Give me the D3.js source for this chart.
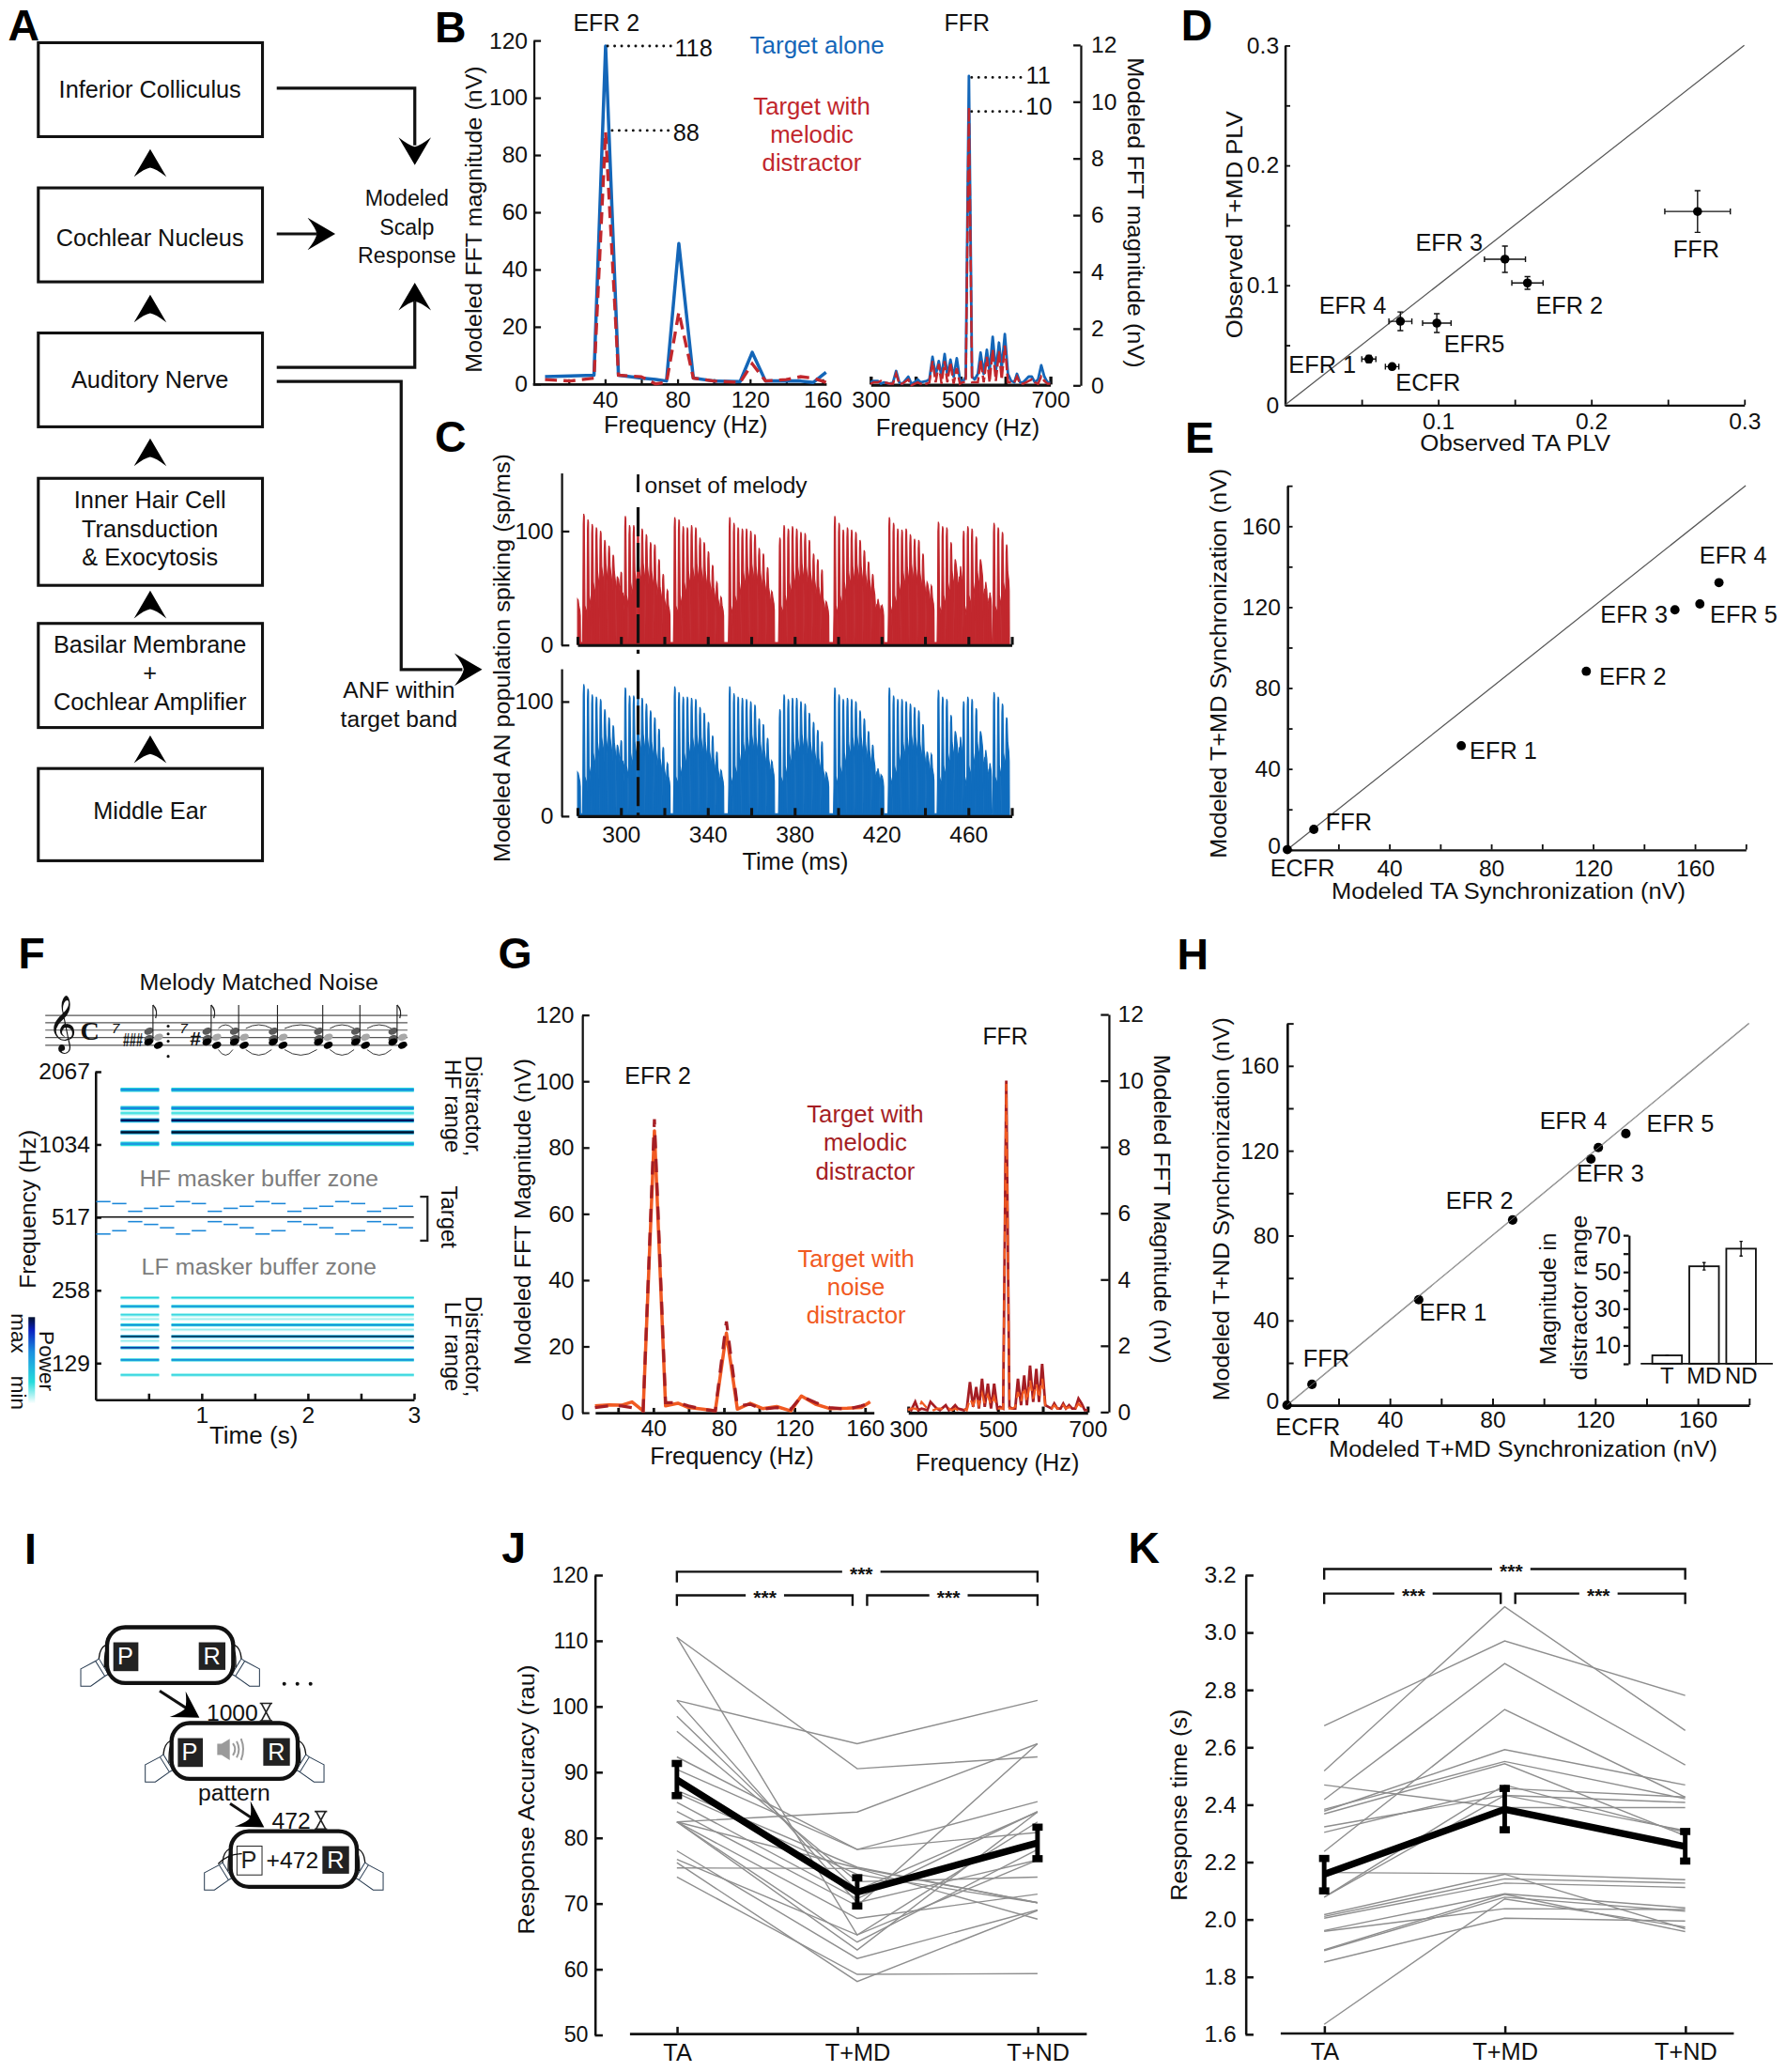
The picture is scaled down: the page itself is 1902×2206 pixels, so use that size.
<!DOCTYPE html>
<html><head><meta charset="utf-8">
<script src="https://cdn.jsdelivr.net/npm/d3@7/dist/d3.min.js"></script>
<style>html,body{margin:0;padding:0;background:#fff}svg{display:block}
text{font-family:"Liberation Sans",Arial,sans-serif;fill:#111}</style></head><body>
<script>
// ---------- DATA ----------
const pathwayStages = [["Inferior Colliculus"],["Cochlear Nucleus"],["Auditory Nerve"],["Inner Hair Cell","Transduction","& Exocytosis"],["Basilar Membrane","+","Cochlear Amplifier"],["Middle Ear"]];
const efrFreqB = [7,21,34,40.4,47.5,60,68,74,80.8,88.8,100,114.6,121.3,128.6,140,148,155,162];
const efrTA_B  = [2.5,2.8,3,118,3,2,1.5,1,49,2,1,0.8,11,1,1,1,0.5,4];
const efrMD_B  = [1.5,1,2,88,3,2.5,0,0.5,25,2,1,0.5,7,1,1.5,2.5,2,0.5];
const ffrFreq = [300,307,316,323,330,343,350,357,364,371,384,391,398,405,411,425,431,438,445,452,458,465,471,478,485,492,499,505,512,519,526,532,539,545,552,559,565,572,579,586,592,599,606,613,620,626,633,640,646,652,659,666,673,680,687,694,700];
const ffrTA_B = [.1,.15,.15,.05,.1,.05,.1,.5,.1,.05,.3,.05,.1,.2,.1,.15,.2,1,.35,.85,.3,1.1,.35,.9,.3,.95,.2,.1,.3,10.9,.3,.2,.4,1.15,.4,1.25,.5,1.7,.5,1.5,.6,1.8,.4,.15,.1,.4,.1,.1,.2,.3,.3,.1,.2,.7,.3,.1,.1];
const ffrMD_B = [.05,.1,.1,.15,.1,.05,.05,.4,.05,.05,.2,0,.05,.1,.05,.05,.1,.85,.1,.75,.05,.85,.1,.8,.05,.6,.05,.1,.1,9.8,.1,.1,.1,.9,.1,1,.1,1.25,.15,1.2,.2,1.4,.1,.1,.1,.3,.05,.05,.1,.15,.2,.1,.05,.3,.15,.05,.05];
const spikeBurstStart = [280.2,283,300.2,324.9,350.2,373.3,398.6,423.7,446.3,457.9,471.9];
const redPeaks = [[40],[115,110,106,103,100,92,87,79,60,40],[64,113,105,105,106,102,97,90,88,75,62,48],[112,110,104,103,105,103,94,90,82,70,55,42],[112,107,103,102,102,100,97,85,80,68,47],[94,105,102,104,102,99,98,92,80,75,66,38],[113,107,101,103,101,99,92,83,73,62,35,34],[112,107,102,101,102,97,93,92,80,55,52],[108,104,103,90,75,60],[100,104,102,95,75,48,40],[107,103,99,88]];
const bluePeaks = [[38],[115,111,106,104,102,93,86,79,62,42],[66,112,105,105,106,103,98,92,86,76,60,46],[113,108,104,104,103,102,95,90,82,70,56,40],[113,107,104,103,102,100,97,85,80,68,48],[93,106,102,103,103,100,98,90,82,75,65,38],[112,106,102,103,102,100,92,85,74,62,38,36],[112,105,102,102,100,98,95,92,80,56,54],[110,104,102,88,74,60],[100,104,102,94,74,50,40],[108,104,98,86]];
const shoulderByOrder = [30,38,48,56,60,62,60,56,50,44,36,30,26];
const onsetTime = 308;
const plvLabels = ["FFR","EFR 3","EFR 2","EFR5","EFR 4","EFR 1","ECFR"];
const plvTA = [.2695,.1437,.1584,.0992,.0754,.0548,.07];
const plvMD = [.1614,.1216,.1018,.0683,.0698,.0383,.032];
const plvTAerr = [.0214,.0134,.0102,.0093,.0075,.0046,.0044];
const plvMDerr = [.0174,.011,.0053,.0078,.0078,.003,.0015];
const synLabels = ["ECFR","FFR","EFR 1","EFR 2","EFR 3","EFR 5","EFR 4"];
const synTA = [0,10.4,68.3,117.4,152.2,162,169.5];
const synMD_E = [0,10,51.4,88.2,118.6,121.5,132];
const synLabelsH = ["ECFR","FFR","EFR 1","EFR 2","EFR 3","EFR 4","EFR 5"];
const synMD_H = [0,9.7,51.3,87.9,118.4,121.3,132];
const synND_H = [0,9.8,49.7,87.3,116,121.4,128];
const hfLineFreq = [1737,1459,1391,1298,1159,1038];
const hfLinePower = [.6,.62,.2,.95,1,.55];
const lfLineFreq = [240,221,204,196,185,177,166,159,149,132.8,115];
const lfLinePower = [.3,.62,.3,.12,.66,.12,1,.12,.9,.65,.3];
const maskerGaps = [[.238,.6],[.716,3]];
const targetUpper = [599,588,546,562,573];
const targetLower = [440,454,495,482,467];
const targetFundamental = 517;
const efrFreqG = [7,15,22,28,34.3,40.7,47,54,60,68,75.2,81.5,87.7,95,102,110,118,124,132,140,150,158,163];
const efrMD_G = [1.5,2,2,1.5,.5,88.5,3,3,2,1,.5,27.5,2,2.5,1,1.5,1,4.9,3,1.5,1,2,3];
const efrND_G = [2,2.3,2.2,3.2,.5,85,2,2.8,1.5,1,.5,24,1,2.8,1.2,1.8,.5,5,2.5,1.2,1.3,1.5,3.2];
const ffrMD_G = [.1,.05,.3,.05,.1,.05,.3,.2,.1,.05,.2,.05,.1,.2,.1,.05,.1,.9,.15,.75,.1,1,.15,.85,.1,.85,.1,.15,.1,10,.15,.1,.1,1,.2,1.1,.2,1.4,.3,1.3,.3,1.45,.2,.15,.1,.25,.1,.1,.25,.1,.2,.1,.1,.4,.25,.05,.05];
const ffrND_G = [.05,.1,.1,.05,.3,.1,.1,.05,.1,.1,.05,.1,.05,.1,.05,.1,.05,.4,.2,.45,.2,.55,.25,.5,.2,.45,.1,.1,.1,9.9,.1,.1,.15,.6,.3,.75,.3,.95,.4,.85,.4,1,.2,.1,.1,.2,.1,.05,.2,.1,.15,.05,.1,.25,.15,.05,.05];
const insetCats = ["T","MD","ND"];
const insetVals = [4.5,53,62.6];
const insetErr = [.2,2,4];
const conditions = ["TA","T+MD","T+ND"];
const accuracyTA = [100.9,110.5,110.5,82.4,100.9,98.5,96.2,92.3,90.4,87.2,86.8,85.4,84,82.4,82.4,82.4,82.4,78,76.7,75.4,74,76.2];
const accuracyMD = [94.3,90.5,65.2,83.9,70.1,72,73.3,78.2,78.2,75.5,74.4,70.7,69.6,75.4,67.7,64.1,62.9,61.6,65.2,75.3,59.2,58.1];
const accuracyND = [100.9,92.3,82.4,94.3,76.6,83.9,74,85.5,80.8,70.1,70.1,84,94.3,70.1,71.4,78.2,83.9,69,76.6,67.6,59.3,68.9];
const accuracyMean = [88.8,71.7,79.2];
const accuracyLo = [86.4,69.6,76.8];
const accuracyHi = [91.3,73.9,81.6];
const timeTA = [2.674,2.517,2.417,2.236,2.077,2.077,2.468,2.377,2.383,2.367,2.322,2.303,2.163,2.016,2.01,2.004,1.961,1.958,1.894,1.891,1.851,1.634];
const timeMD = [2.97,3.089,2.891,2.731,2.468,2.432,2.389,2.591,2.55,2.542,2.432,2.456,2.159,2.157,2.141,2.126,2.089,2.037,2.087,2.077,2.004,2.071];
const timeND = [2.78,2.658,2.538,2.426,2.303,2.309,2.389,2.468,2.42,2.291,2.407,2.426,2.138,1.967,2.126,2.111,2.04,2.034,1.957,2.028,1.994,1.973];
const timeMean = [2.157,2.383,2.254];
const timeLo = [2.099,2.312,2.203];
const timeHi = [2.212,2.456,2.306];

// ---------- SETUP ----------
const W=1352, H=2206/(1902/1352);
const svg=d3.select("body").append("svg").attr("width",1902).attr("height",2206).attr("viewBox",`0 0 ${W} ${H}`);
const RED="#c1272d",BLUE="#1466b8",DKRED="#a51e24",ORANGE="#f15a22",GRAY="#8e8e8e";
function txt(p,x,y,s,o={}){
  const t=p.append("text").attr("transform",`translate(${x},${y})`+(o.rot?` rotate(${o.rot})`:""))
    .attr("text-anchor",o.anchor||"middle").attr("dy",".36em").attr("font-size",o.size||17).text(s);
  if(o.fill)t.style("fill",o.fill); if(o.weight)t.attr("font-weight",o.weight);
  if(o.len)t.attr("textLength",o.len).attr("lengthAdjust","spacingAndGlyphs");
  if(o.family)t.style("font-family",o.family); if(o.style)t.attr("font-style",o.style);
  return t;
}
function axis(orient,scale,pos,o){
  const horiz=orient==="axisBottom"||orient==="axisTop";
  const g=svg.append("g").attr("transform",horiz?`translate(0,${pos})`:`translate(${pos},0)`);
  const gen=d3[orient](scale).tickValues(o.ticks).tickSize(o.size).tickSizeOuter(0).tickPadding(o.pad===undefined?5:o.pad)
    .tickFormat(o.fmt||(d=>d));
  g.call(gen);
  g.select(".domain").attr("stroke","#111").attr("stroke-width",o.sw||1.6);
  g.selectAll(".tick line").attr("stroke","#111").attr("stroke-width",o.tsw||o.sw||1.6);
  g.selectAll(".tick text").attr("font-size",o.fs||17).attr("font-family",null).style("fill","#111");
  g.attr("font-family",null);
  return g;
}
const only=(list,f)=>d=>list.some(v=>Math.abs(v-d)<1e-6)?(f?f(d):d):"";
function rangeTicks(a,b,s){const r=[];for(let v=a;v<=b+1e-9;v+=s)r.push(+v.toFixed(4));return r;}
function letter(x,y,s){txt(svg,x,y,s,{size:33,weight:"bold"}).style("fill","#000");}
function arrowHead(p,x,y,rot){p.append("path").attr("transform",`translate(${x},${y}) rotate(${rot})`)
  .attr("d","M0,0 L12.3,21 Q4,14.5 0,14 Q-4,14.5 -12.3,21 Z").attr("fill","#000");}
const lineGen=(xs,ys)=>d3.line().x(d=>xs(d[0])).y(d=>ys(d[1]));

// ---------- PANEL A ----------
const gA=svg.append("g");
const boxY=[[32.3,103.4],[142.2,213.3],[252,323],[362,443],[471.8,550.6],[581.6,651.4]];
const boxTextNudge=[0,2.5,0,-2,-1.5,-2.5];
const upArrowTip=[112.9,223,331.8,447,556.6];
pathwayStages.forEach((lines,i)=>{
  gA.append("rect").attr("x",29).attr("y",boxY[i][0]).attr("width",169.7).attr("height",boxY[i][1]-boxY[i][0]).attr("fill","#fff").attr("stroke","#111").attr("stroke-width",2.2);
  const cy=(boxY[i][0]+boxY[i][1])/2+boxTextNudge[i];
  lines.forEach((l,k)=>txt(gA,113.5,cy-(lines.length-1)*10.8+k*21.6-.5,l,{size:18}));
});
upArrowTip.forEach(t=>arrowHead(gA,113.7,t,0));
gA.selectAll(null).data([[[209.5,66.8],[314,66.8],[314,110]],[[209.5,177],[240,177]],[[209.5,278],[314,278],[314,228]],[[209.5,288.7],[303.7,288.7],[303.7,506.7],[350,506.7]]]).join("path")
  .attr("d",d3.line()).attr("fill","none").attr("stroke","#111").attr("stroke-width",2.3);
arrowHead(gA,314,125,180);arrowHead(gA,253.8,177,90);arrowHead(gA,314,214,0);arrowHead(gA,365,506.7,90);
["Modeled","Scalp","Response"].forEach((s,i)=>txt(gA,308,150+i*21.6,s,{size:16.5}));
["ANF within","target band"].forEach((s,i)=>txt(gA,302,522+i*22,s,{size:17.5}));
letter(18,18.5,"A");

// ---------- PANEL B ----------
const bx=d3.scaleLinear().domain([0,162]).range([403,625.3]), by=d3.scaleLinear().domain([0,120]).range([290.5,30.5]);
const bx2=d3.scaleLinear().domain([300,700]).range([659,795]), by2=d3.scaleLinear().domain([0,12]).range([291.5,33.9]);
axis("axisLeft",by,404,{ticks:rangeTicks(0,120,20),size:-5.5,pad:4.5,fs:17.5});
axis("axisBottom",bx,290.5,{ticks:rangeTicks(20,160,20),size:-3.5,pad:5.5,fmt:only([40,80,120,160]),fs:17.5,sw:2,tsw:1.6});
axis("axisBottom",bx2,291,{ticks:[300,400,500,600,700],size:-6,pad:5,fmt:only([300,500,700]),fs:17.5,sw:2.4});
axis("axisRight",by2,818,{ticks:rangeTicks(0,12,2),size:-5.5,pad:8,fs:17.5});
function spectrum(xs,ys,f,a,b,ca,cb,flip,w){
  svg.append("path").datum(d3.zip(f,a)).attr("d",lineGen(xs,ys)).attr("fill","none").attr("stroke",ca).attr("stroke-width",w||2.5).attr("stroke-linejoin","round");
  svg.append("path").datum(d3.zip(f,b)).attr("d",lineGen(xs,ys)).attr("fill","none").attr("stroke",cb).attr("stroke-width",w?w-.2:2.4).attr("stroke-dasharray",flip||"9 5");
}
spectrum(bx,by,efrFreqB,efrTA_B,efrMD_B,BLUE,RED);
spectrum(bx2,by2,ffrFreq,ffrTA_B,ffrMD_B,BLUE,RED,"9 2.5",2);
[[bx(41.5),by(118),510],[bx(44),by(88.5),510]].forEach(d=>svg.append("line").attr("x1",d[0]).attr("x2",d[2]).attr("y1",d[1]).attr("y2",d[1]).attr("stroke","#111").attr("stroke-width",2).attr("stroke-linecap","round").attr("stroke-dasharray",".1 5.2"));
[[by2(10.85)],[by2(9.65)]].forEach(d=>svg.append("line").attr("x1",bx2(525)).attr("x2",774).attr("y1",d[0]).attr("y2",d[0]).attr("stroke","#111").attr("stroke-width",2).attr("stroke-linecap","round").attr("stroke-dasharray",".1 5.2"));
txt(svg,525,36,"118",{size:18});txt(svg,519.5,100,"88",{size:18});txt(svg,786,57,"11",{size:18});txt(svg,786.5,80,"10",{size:18});
txt(svg,459,17,"EFR 2",{size:17.7});txt(svg,732,17,"FFR",{size:17.7});
txt(svg,618.5,34,"Target alone",{fill:BLUE,size:18.5});
["Target with","melodic","distractor"].forEach((s,i)=>txt(svg,614.5,80+i*21.5,s,{fill:RED,size:18.3}));
txt(svg,358,166,"Modeled FFT magnitude (nV)",{rot:-90,size:17.5,len:232});
txt(svg,860,161,"Modeled FFT magnitude (nV)",{rot:90,size:17.5,len:235});
txt(svg,519,321,"Frequency (Hz)",{size:18});txt(svg,725,323,"Frequency (Hz)",{size:18});
letter(341,20,"B");

// ---------- PANEL C ----------
const cx=d3.scaleLinear().domain([280,480]).range([437,765.8]);
const cyR=d3.scaleLinear().domain([0,151]).range([488,357.8]);
const cyB=d3.scaleLinear().domain([0,128.6]).range([617.5,506]);
const SPIKE_MS=1.934;
function spikeTrace(peaks){
  const pts=[];
  peaks.forEach((b,bi)=>{b.forEach((p,i)=>{
    const t=spikeBurstStart[bi]+i*SPIKE_MS, s=Math.min(p,shoulderByOrder[Math.min(i,12)]);
    pts.push([t-.62,2],[t-.42,Math.min(p,s*.9)],[t-.24,p*.92],[t-.04,p],[t+.22,p*.98],[t+.52,s*1.15],[t+1.0,s],[t+1.2,s*.85],[t+1.29,2]);
  });});
  return pts.filter(d=>d[0]<=480&&d[0]>=280);
}
function spikePanel(peaks,ys,color,y0){
  svg.append("path").datum(spikeTrace(peaks)).attr("d",d3.area().x(d=>cx(d[0])).y0(y0).y1(d=>ys(d[1]))).attr("fill",color).attr("stroke",color).attr("stroke-width",.85);
  axis("axisBottom",cx,y0,{ticks:rangeTicks(280,480,20),size:-6,pad:8,fmt:y0>600?only([300,340,380,420,460]):()=>"",sw:2.2,fs:17.5});
  axis("axisLeft",ys,425,{ticks:[0,100],size:-6,pad:6,sw:1.6,fs:17.5});
  svg.append("line").attr("x1",cx(onsetTime)).attr("x2",cx(onsetTime)).attr("y1",y0>600?507:383.8).attr("y2",y0>600?617:494.8).attr("stroke","#111").attr("stroke-width",2.3).attr("stroke-dasharray","22 5");
}
spikePanel(redPeaks,cyR,"#c1272d",488);
spikePanel(bluePeaks,cyB,"#0f6cbd",617.5);
svg.append("line").attr("x1",cx(onsetTime)).attr("x2",cx(onsetTime)).attr("y1",359).attr("y2",372.5).attr("stroke","#111").attr("stroke-width",2);
txt(svg,488,367,"onset of melody",{anchor:"start",size:17,len:123});
txt(svg,380,498,"Modeled AN population spiking (sp/ms)",{rot:-90,size:17.5,len:309});
txt(svg,602,652,"Time (ms)",{size:18});
letter(341,330,"C");

// ---------- PANEL D ----------
const dx=d3.scaleLinear().domain([0,.3]).range([972.7,1320.4]), dy=d3.scaleLinear().domain([0,.3]).range([306.5,34.3]);
const fmtPlain=d=>d===0?"0":String(d);
axis("axisLeft",dy,972.7,{ticks:rangeTicks(0,.3,.05),size:-4,pad:4.5,fmt:only([0,.1,.2,.3],fmtPlain),sw:1.8,tsw:1.3,fs:17.5});
axis("axisBottom",dx,306.5,{ticks:rangeTicks(.05,.3,.05),size:-4,pad:6,fmt:only([.1,.2,.3],fmtPlain),sw:1.6,tsw:1.3,fs:17.5});
svg.append("line").attr("x1",dx(0)).attr("y1",dy(0)).attr("x2",dx(.3)).attr("y2",dy(.3)).attr("stroke","#555").attr("stroke-width",.9);
plvLabels.forEach((l,i)=>{
  const x=dx(plvTA[i]),y=dy(plvMD[i]),xl=dx(plvTA[i]-plvTAerr[i]),xh=dx(plvTA[i]+plvTAerr[i]),yl=dy(plvMD[i]-plvMDerr[i]),yh=dy(plvMD[i]+plvMDerr[i]);
  const g=svg.append("g").attr("stroke","#111").attr("stroke-width",1);
  g.append("path").attr("fill","none").attr("d",`M${xl},${y}H${xh}M${xl},${y-2.2}V${y+2.2}M${xh},${y-2.2}V${y+2.2}M${x},${yl}V${yh}M${x-2.2},${yl}H${x+2.2}M${x-2.2},${yh}H${x+2.2}`);
  g.append("circle").attr("cx",x).attr("cy",y).attr("r",3.4).attr("fill","#000").attr("stroke","none");
});
[[1284,188],[1097,183],[1188,231],[1116,260],[1024,231],[1001,276],[1081,289]].forEach((p,i)=>txt(svg,p[0],p[1],plvLabels[i],{size:18}));
txt(svg,934,170,"Observed T+MD PLV",{rot:-90,size:17,len:172});
txt(svg,1147,335,"Observed TA PLV",{size:17,len:144});
letter(906,19,"D");

// ---------- PANEL E ----------
const ex=d3.scaleLinear().domain([0,180]).range([974.5,1321.5]), ey=d3.scaleLinear().domain([0,180]).range([643,367.5]);
axis("axisLeft",ey,974.5,{ticks:rangeTicks(0,180,20),size:-4,pad:5,fmt:only([0,40,80,120,160]),sw:1.8,tsw:1.3,fs:17.5})
  .selectAll(".tick text").filter(d=>d===0).attr("dy",".15em");
axis("axisBottom",ex,643,{ticks:rangeTicks(20,180,20),size:-4,pad:8,fmt:only([40,80,120,160]),sw:1.6,tsw:1.3,fs:17.5});
svg.append("line").attr("x1",ex(0)).attr("y1",ey(0)).attr("x2",ex(180)).attr("y2",ey(180)).attr("stroke","#555").attr("stroke-width",.9);
svg.selectAll(null).data(d3.zip(synTA,synMD_E)).join("circle").attr("cx",d=>ex(d[0])).attr("cy",d=>ey(d[1])).attr("r",3.5).attr("fill","#000");
[[986,657],[1021,622],[1138,568],[1236,512],[1237,465],[1320,465],[1312,420]].forEach((p,i)=>txt(svg,p[0],p[1],synLabels[i],{size:18}));
txt(svg,922,502,"Modeled T+MD Synchronization (nV)",{rot:-90,size:17,len:295});
txt(svg,1142,674,"Modeled TA Synchronization (nV)",{size:17,len:268});
letter(908,331,"E");

// ---------- PANEL F ----------
const fx=d3.scaleLinear().domain([0,3]).range([72.2,313.3]), fy=d3.scaleLog().base(2).domain([91,2067]).range([1059.2,810.9]);
const powerColor=d3.scaleLinear().domain([0,.25,.6,.85,1]).range(["#ffffff","#25dcdc","#1a8fe0","#0a1fc0","#02102e"]);
axis("axisLeft",fy,72.2,{ticks:[129,258,517,1034,2067],size:-4.5,pad:4,sw:1.8,fs:17.5});
axis("axisBottom",fx,1059.2,{ticks:rangeTicks(.5,3,.5),size:-4.5,pad:5,fmt:only([1,2,3]),sw:1.8,fs:17.5});
function maskerLines(freqs,powers,scaleW){
  d3.zip(freqs,powers).sort((a,b)=>a[1]-b[1]).forEach(([f,p])=>maskerGaps.forEach(([a,b])=>{
    const base=svg.append("g");
    base.append("line").attr("x1",fx(a)).attr("x2",fx(b)).attr("y1",fy(f)).attr("y2",fy(f)).attr("stroke",powerColor(p*.45)).attr("stroke-width",scaleW+1.4);
    base.append("line").attr("x1",fx(a)).attr("x2",fx(b)).attr("y1",fy(f)).attr("y2",fy(f)).attr("stroke",powerColor(p)).attr("stroke-width",scaleW*.9);
  }));
}
maskerLines(hfLineFreq,hfLinePower,1.9);
maskerLines(lfLineFreq,lfLinePower,.9);
const stepW=3/20;
d3.range(20).forEach(i=>{
  [targetUpper,targetLower].forEach(arr=>{
    const f=arr[i%5];
    svg.append("line").attr("x1",fx(i*stepW)+.6).attr("x2",fx((i+1)*stepW)-.6).attr("y1",fy(f)).attr("y2",fy(f)).attr("stroke","#1a86d8").attr("stroke-width",1.1);
  });
});
svg.append("line").attr("x1",fx(0)).attr("x2",fx(3)).attr("y1",fy(targetFundamental)).attr("y2",fy(targetFundamental)).attr("stroke","#111").attr("stroke-width",1);
svg.append("path").attr("d","M318,905.6H323.6V939H318").attr("fill","none").attr("stroke","#222").attr("stroke-width",1.6);
txt(svg,196,743,"Melody Matched Noise",{size:17,len:181});
txt(svg,196,892,"HF masker buffer zone",{size:16.5,fill:"#7d7d7d",len:181});
txt(svg,196,959,"LF masker buffer zone",{size:16.5,fill:"#7d7d7d",len:178});
txt(svg,20.8,915,"Frequency (Hz)",{rot:-90,size:17.5,len:120});
txt(svg,192,1086,"Time (s)",{size:18.5});
[["Distractor,",359,837],["HF range",343,837],["Target",340,921],["Distractor,",359,1019],["LF range",343,1019]].forEach(d=>txt(svg,d[1],d[2],d[0],{rot:90,size:17}));
const grad=svg.append("defs").append("linearGradient").attr("id","pow").attr("x1",0).attr("x2",0).attr("y1",1).attr("y2",0);
[0,.08,.25,.6,.85,1].forEach(o=>grad.append("stop").attr("offset",o).attr("stop-color",powerColor(o)));
svg.append("rect").attr("x",21.5).attr("y",996.8).attr("width",5).attr("height",65.4).attr("fill","url(#pow)");
txt(svg,35.5,1030,"Power",{rot:90,size:16});txt(svg,14.5,1009,"max",{rot:90,size:16});txt(svg,14.5,1054,"min",{rot:90,size:16});
// score
const sy=z=>(980+z/2.8)/1.4068, sx=z=>z/4.085;
[283,305,327,349,372].forEach(z=>svg.append("line").attr("x1",sx(140)).attr("x2",sx(1260)).attr("y1",sy(z)).attr("y2",sy(z)).attr("stroke","#555").attr("stroke-width",.8));
txt(svg,sx(192),sy(302),"\u{1D11E}",{size:37,family:"'DejaVu Sans'"});
txt(svg,sx(278),sy(326),"C",{size:20,weight:"bold",family:"'Liberation Serif'"});
[[357,320],[568,320]].forEach(p=>txt(svg,sx(p[0]),sy(p[1]),"7",{size:11,style:"italic"}));
txt(svg,sx(411),sy(355),"###",{size:15,weight:"bold",len:15});
txt(svg,sx(604),sy(352),"#",{size:15,weight:"bold"});
[315,338,360,405].forEach(z=>svg.append("circle").attr("cx",sx(520)).attr("cy",sy(z)).attr("r",1.1).attr("fill","#111"));
const noteCols=[460,640,725,845,985,1100,1215];
noteCols.forEach((c,i)=>{
  [[0,330,"#5a5a5a"],[0,352,"#5a5a5a"],[30,348,"#a8a8a8"],[0,362,"#000"],[30,372,"#000"]].forEach(n=>{
    svg.append("ellipse").attr("cx",sx(c+n[0])).attr("cy",sy(n[1])).attr("rx",3.6).attr("ry",2.5).attr("transform",`rotate(-25 ${sx(c+n[0])} ${sy(n[1])})`).attr("fill",n[2]);
  });
  svg.append("line").attr("x1",sx(c+13)).attr("x2",sx(c+13)).attr("y1",sy(252)).attr("y2",sy(360)).attr("stroke","#222").attr("stroke-width",.8);
  if(i===0||i===1||i===6) svg.append("path").attr("d",`M${sx(c+13)},${sy(252)} q4,4 2,10`).attr("fill","none").attr("stroke","#222").attr("stroke-width",.9);
  if(i>0&&i<6){
    const a=sx(c+35),b=sx(noteCols[i+1]-5);
    svg.append("path").attr("d",`M${a},${sy(322)} Q${(a+b)/2},${sy(300)} ${b},${sy(322)}`).attr("fill","none").attr("stroke","#333").attr("stroke-width",.7);
    svg.append("path").attr("d",`M${a},${sy(385)} Q${(a+b)/2},${sy(418)} ${b},${sy(385)}`).attr("fill","none").attr("stroke","#333").attr("stroke-width",.7);
  }
});
letter(24,721,"F");

// ---------- PANEL G ----------
const gx=d3.scaleLinear().domain([7,165]).range([450.4,661.4]), gy=d3.scaleLinear().domain([0,120]).range([1069,768]);
const gx2=d3.scaleLinear().domain([300,700]).range([687.4,823.2]), gy2=d3.scaleLinear().domain([0,12]).range([1068.5,767.6]);
axis("axisLeft",gy,440.7,{ticks:rangeTicks(0,120,20),size:-5.5,pad:6,fs:17.5});
axis("axisBottom",gx,1069,{ticks:rangeTicks(20,160,20),size:-3.5,pad:5.5,fmt:only([40,80,120,160]),sw:2,fs:17.5});
axis("axisBottom",gx2,1069,{ticks:[300,400,500,600,700],size:-4.5,pad:6,fmt:only([300,500,700]),sw:2.2,fs:17.5});
axis("axisRight",gy2,839.3,{ticks:rangeTicks(0,12,2),size:-6,pad:7,fs:17.5});
spectrum(gx,gy,efrFreqG,efrND_G,efrMD_G,ORANGE,DKRED,"10 8",2.5);
svg.append("path").datum(d3.zip(ffrFreq,ffrMD_G)).attr("d",lineGen(gx2,gy2)).attr("fill","none").attr("stroke",DKRED).attr("stroke-width",2);
svg.append("path").datum(d3.zip(ffrFreq,ffrND_G)).attr("d",lineGen(gx2,gy2)).attr("fill","none").attr("stroke",ORANGE).attr("stroke-width",1.6).attr("stroke-dasharray","8 5");
txt(svg,498,814,"EFR 2",{size:17.7});txt(svg,761,784,"FFR",{size:17.7});
["Target with","melodic","distractor"].forEach((s,i)=>txt(svg,655,843+i*21.5,s,{fill:DKRED,size:18.3}));
["Target with","noise","distractor"].forEach((s,i)=>txt(svg,648,952+i*21.5,s,{fill:ORANGE,size:18.3}));
txt(svg,395,917,"Modeled FFT Magnitude (nV)",{rot:-90,size:17.5,len:232});
txt(svg,880,915,"Modeled FFT Magnitude (nV)",{rot:90,size:17.5,len:234});
txt(svg,554,1102,"Frequency (Hz)",{size:18});txt(svg,755,1107,"Frequency (Hz)",{size:18});
letter(390,721,"G");

// ---------- PANEL H ----------
const hx=d3.scaleLinear().domain([0,180]).range([974.3,1324]), hy=d3.scaleLinear().domain([0,180]).range([1063.4,774.4]);
axis("axisLeft",hy,974.3,{ticks:rangeTicks(0,180,20),size:-5,pad:6,fmt:only([0,40,80,120,160]),sw:1.9,tsw:1.4,fs:17.5})
  .selectAll(".tick text").filter(d=>d===0).attr("dy",".15em");
axis("axisBottom",hx,1063.4,{ticks:rangeTicks(20,180,20),size:-5,pad:5,fmt:only([40,80,120,160]),sw:1.9,tsw:1.4,fs:17.5});
svg.append("line").attr("x1",hx(0)).attr("y1",hy(0)).attr("x2",hx(180)).attr("y2",hy(180)).attr("stroke","#666").attr("stroke-width",.9);
svg.selectAll(null).data(d3.zip(synMD_H,synND_H)).join("circle").attr("cx",d=>hx(d[0])).attr("cy",d=>hy(d[1])).attr("r",3.6).attr("fill","#000");
svg.append("line").attr("x1",hx(0)).attr("y1",hy(0)).attr("x2",hx(180)).attr("y2",hy(180)).attr("stroke","#ddd").attr("stroke-width",.35);
[[990,1080],[1004,1028],[1100,993],[1120,908],[1219,888],[1191,848],[1272,850]].forEach((p,i)=>txt(svg,p[0],p[1],synLabelsH[i],{size:18}));
txt(svg,924,915,"Modeled T+ND Synchronization (nV)",{rot:-90,size:17.5,len:290});
txt(svg,1153,1096,"Modeled T+MD Synchronization (nV)",{size:17.5,len:294});
const ix=d3.scaleBand().domain(insetCats).range([1248,1332]).paddingInner(.2).paddingOuter(.1);
const iy=d3.scaleLinear().domain([0,70]).range([1032,934.7]);
svg.selectAll(null).data(d3.zip(insetCats,insetVals,insetErr)).join(e=>{
  const g=e.append("g");
  g.append("rect").attr("x",d=>ix(d[0])).attr("width",ix.bandwidth()).attr("y",d=>iy(d[1])).attr("height",d=>iy(0)-iy(d[1])).attr("fill","#fff").attr("stroke","#111").attr("stroke-width",1.3);
  g.append("path").attr("d",d=>{const c=ix(d[0])+ix.bandwidth()/2;return `M${c},${iy(d[1]-d[2])}V${iy(d[1]+d[2])}M${c-1.2},${iy(d[1]-d[2])}H${c+1.2}M${c-1.2},${iy(d[1]+d[2])}H${c+1.2}`;}).attr("stroke","#111").attr("stroke-width",1).attr("fill","none");
  return g;
});
axis("axisLeft",iy,1233,{ticks:rangeTicks(0,70,10),size:4,pad:2,fmt:only([10,30,50,70]),sw:1.6,fs:18});
svg.append("line").attr("x1",1242).attr("x2",1342).attr("y1",1032).attr("y2",1032).attr("stroke","#111").attr("stroke-width",1.3);
axis("axisBottom",ix,1032,{ticks:insetCats,size:0,pad:3,sw:0,fs:17}).select(".domain").remove();
txt(svg,1172,983,"Magnitude in",{rot:-90,size:17,len:100});
txt(svg,1195,982,"distractor range",{rot:-90,size:17,len:125});
letter(903,722,"H");

// ---------- PANEL I ----------
const gI=svg.append("g").attr("transform","scale(.23697) translate(0,4800)");
const devX=[342,548,737],devY=[397,703,1048];
function hand(g,m){
  const L=(a)=>a.map(p=>[m?403-p[0]:p[0],p[1]]);
  g.append("path").attr("d",d3.line()(L([[-84,133],[-37,108],[-7,156],[-52,188],[-84,188]]))+"Z").attr("fill","#fff").attr("stroke","#24384e").attr("stroke-width",3);
  g.append("path").attr("d",d3.line()(L([[-37,108],[-26,100],[4,150],[-7,156]]))).attr("fill","none").attr("stroke","#24384e").attr("stroke-width",3);
  g.append("path").attr("d",d3.line().curve(d3.curveBasis)(L([[-26,100],[-22,70],[0,52],[12,54]]))).attr("fill","none").attr("stroke","#111").attr("stroke-width",4);
  g.append("path").attr("d",d3.line().curve(d3.curveBasis)(L([[-8,128],[-8,95],[-4,70],[6,56]]))).attr("fill","none").attr("stroke","#111").attr("stroke-width",4);
}
devX.forEach((x,i)=>{
  const g=gI.append("g").attr("transform",`translate(${x},${devY[i]})`);
  hand(g,false);hand(g,true);
  g.append("rect").attr("width",403).attr("height",178).attr("rx",58).attr("fill","#fff").attr("stroke","#111").attr("stroke-width",13);
  g.append("rect").attr("x",20).attr("y",48).attr("width",80).attr("height",92).attr("fill",i===2?"#fff":"#222").attr("stroke","#222").attr("stroke-width",i===2?3:0);
  g.append("rect").attr("x",293).attr("y",48).attr("width",85).attr("height",88).attr("fill","#222");
  txt(g,58,90,"P",{size:76,fill:i===2?"#222":"#fff"});
  txt(g,335,90,"R",{size:76,fill:"#fff"});
  if(i===2){g.append("path").attr("d","M-40,105 Q-10,72 36,72").attr("fill","none").attr("stroke","#111").attr("stroke-width",4);txt(g,197,92,"+472",{size:74});}
  if(i===1){
    g.append("path").attr("d","M146,66 H160 L186,50 V118 L160,102 H146 Z").attr("fill","#9a9a9a");
    [[196,65,103],[208,58,110],[222,50,118]].forEach(a=>g.append("path").attr("d",`M${a[0]},${a[1]} Q${a[0]+14},${(a[1]+a[2])/2} ${a[0]},${a[2]}`).attr("fill","none").attr("stroke","#9a9a9a").attr("stroke-width",6));
  }
});
[[510,600,615,668],[735,960,822,1018]].forEach(a=>{
  gI.append("line").attr("x1",a[0]).attr("y1",a[1]).attr("x2",a[2]).attr("y2",a[3]).attr("stroke","#111").attr("stroke-width",9);
  gI.append("path").attr("transform",`translate(${a[2]+22},${a[3]+18}) rotate(122) scale(3.9)`).attr("d","M0,0 L12.3,21 Q4,14.5 0,14 Q-4,14.5 -12.3,21 Z").attr("fill","#000");
});
txt(gI,742,668,"1000",{size:74});txt(gI,748,925,"pattern",{size:74});txt(gI,930,1015,"472",{size:74});
[[850,668],[1025,1013]].forEach(p=>gI.append("path").attr("transform",`translate(${p[0]},${p[1]})`).attr("d","M-20,-28H20M-20,28H20M-15,-28L15,28H-15L15,-28Z").attr("fill","none").attr("stroke","#222").attr("stroke-width",5));
[908,950,992].forEach(x=>gI.append("circle").attr("cx",x).attr("cy",578).attr("r",6).attr("fill","#111"));
letter(23,1172,"I");

// ---------- PANELS J, K ----------
function slopePanel(o){
  const x=d3.scaleLinear().domain([0,2]).range(o.cx);
  const xa=d3.scaleLinear().domain([x.invert(o.xr[0]),x.invert(o.xr[1])]).range(o.xr);
  const y=d3.scaleLinear().domain(o.dom).range(o.yr);
  axis("axisLeft",y,o.ax,{ticks:o.ticks,size:-6,pad:o.pad,sw:1.8,fs:o.fs,fmt:o.fmt});
  axis("axisBottom",xa,o.yr[0]-1,{ticks:[0,1,2],size:-5,pad:8,sw:1.8,fs:18,fmt:d=>conditions[d]});
  const lines=d3.zip(o.a,o.b,o.c);
  svg.selectAll(null).data(lines).join("path").attr("d",d=>d3.line().x((v,i)=>x(i)).y(v=>y(v))(d)).attr("fill","none").attr("stroke",GRAY).attr("stroke-width",1);
  svg.append("path").datum(o.mean).attr("d",d3.line().x((v,i)=>x(i)).y(v=>y(v))).attr("fill","none").attr("stroke","#000").attr("stroke-width",5.2);
  o.mean.forEach((m,i)=>{
    svg.append("line").attr("x1",x(i)).attr("x2",x(i)).attr("y1",y(o.lo[i])).attr("y2",y(o.hi[i])).attr("stroke","#000").attr("stroke-width",3.5);
    [o.lo[i],o.hi[i]].forEach(v=>svg.append("rect").attr("x",x(i)-3.9).attr("width",7.8).attr("y",y(v)-2.7).attr("height",5.4).attr("fill","#000"));
  });
  const bracket=(x1,x2,yy,star)=>{
    svg.append("path").attr("d",`M${x1},${yy+8}V${yy}H${x2}V${yy+8}`).attr("fill","none").attr("stroke","#111").attr("stroke-width",1.7);
    svg.append("rect").attr("x",star-14.5).attr("y",yy-5).attr("width",29).attr("height",10).attr("fill","#fff");
    txt(svg,star,yy+1.5,"***",{size:15,weight:"bold"});
  };
  bracket(x(0),x(2),o.by[0],o.stars[1]);
  bracket(x(0),x(1)-o.gap[0],o.by[1],o.stars[0]);
  bracket(x(1)+o.gap[1],x(2),o.by[1],o.stars[2]);
}
slopePanel({cx:[512.4,785.4],xr:[476.4,822.2],dom:[50,120],yr:[1539.9,1191.9],ax:450.3,ticks:rangeTicks(50,120,10),pad:5,fs:16.5,
  a:accuracyTA,b:accuracyMD,c:accuracyND,mean:accuracyMean,lo:accuracyLo,hi:accuracyHi,by:[1189.5,1207.3],gap:[3.5,7.5],stars:[579,652,718]});
slopePanel({cx:[1002.4,1275.7],xr:[969,1312],dom:[1.6,3.2],yr:[1539.4,1191.9],ax:942.9,ticks:rangeTicks(1.6,3.2,.2),fmt:d=>d.toFixed(1),pad:7,fs:17.5,
  a:timeTA,b:timeMD,c:timeND,mean:timeMean,lo:timeLo,hi:timeHi,by:[1187.4,1206],gap:[3,8],stars:[1070,1144,1210]});
txt(svg,398.5,1362,"Response Accuracy (rau)",{rot:-90,size:17.5,len:204});
txt(svg,892,1366,"Response time (s)",{rot:-90,size:17.5,len:145});
letter(389,1171,"J");letter(866,1171,"K");
</script></body></html>
